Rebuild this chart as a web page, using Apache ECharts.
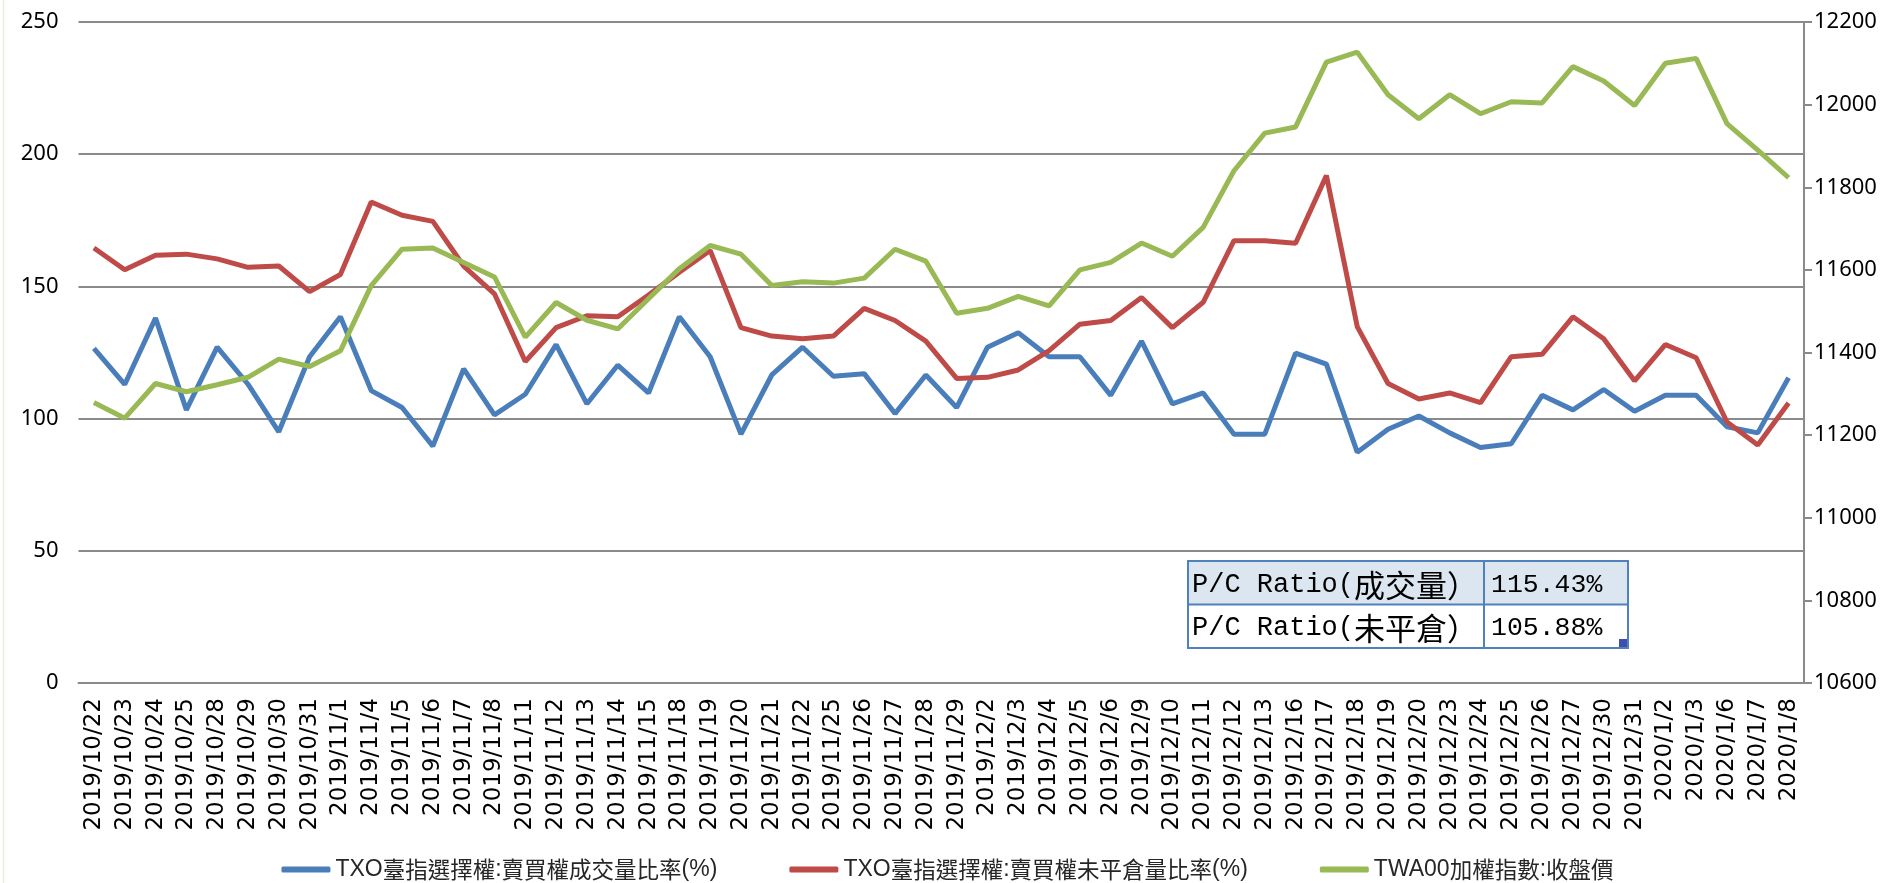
<!DOCTYPE html>
<html>
<head>
<meta charset="utf-8">
<script src="https://cdn.jsdelivr.net/npm/echarts@6/dist/echarts.min.js"></script>
<style>
  html, body { margin: 0; padding: 0; background: #ffffff; }
  #chart { width: 1895px; height: 883px; }
</style>
</head>
<body>
<div id="chart"></div>
<script>
const categories = [
  '2019/10/22','2019/10/23','2019/10/24','2019/10/25','2019/10/28','2019/10/29','2019/10/30','2019/10/31',
  '2019/11/1','2019/11/4','2019/11/5','2019/11/6','2019/11/7','2019/11/8','2019/11/11','2019/11/12',
  '2019/11/13','2019/11/14','2019/11/15','2019/11/18','2019/11/19','2019/11/20','2019/11/21','2019/11/22',
  '2019/11/25','2019/11/26','2019/11/27','2019/11/28','2019/11/29','2019/12/2','2019/12/3','2019/12/4',
  '2019/12/5','2019/12/6','2019/12/9','2019/12/10','2019/12/11','2019/12/12','2019/12/13','2019/12/16',
  '2019/12/17','2019/12/18','2019/12/19','2019/12/20','2019/12/23','2019/12/24','2019/12/25','2019/12/26',
  '2019/12/27','2019/12/30','2019/12/31','2020/1/2','2020/1/3','2020/1/6','2020/1/7','2020/1/8'
];

// TXO put/call volume ratio (%)
const putCallVolumeRatio = [
  126.6, 112.9, 138.0, 103.3, 127.0, 113.0, 95.0, 123.4,
  138.5, 110.6, 104.2, 89.6, 118.8, 101.4, 109.2, 128.0,
  105.6, 120.2, 109.7, 138.5, 123.4, 94.1, 116.5, 127.0,
  116.0, 117.0, 101.9, 116.5, 104.2, 127.0, 132.5, 123.4,
  123.4, 108.8, 129.3, 105.6, 109.7, 94.1, 94.1, 124.8,
  120.6, 87.3, 96.0, 101.0, 94.6, 89.1, 90.5, 108.8,
  103.3, 111.0, 102.8, 108.8, 108.8, 96.9, 94.6, 115.43
];

// TXO put/call open interest ratio (%)
const putCallOIRatio = [
  164.5, 156.3, 161.8, 162.2, 160.4, 157.2, 157.7, 148.0,
  154.5, 181.9, 176.9, 174.6, 157.7, 147.2, 121.6, 134.4,
  138.9, 138.5, 146.7, 155.4, 163.6, 134.4, 131.2, 130.2,
  131.2, 141.7, 137.1, 129.3, 115.2, 115.6, 118.4, 125.7,
  135.7, 137.1, 145.8, 134.4, 144.0, 167.3, 167.3, 166.3,
  191.9, 134.8, 113.3, 107.4, 109.7, 106.0, 123.4, 124.3,
  138.5, 130.2, 114.3, 128.0, 123.0, 98.7, 90.0, 105.88
];

// TWA00 weighted index close
const taiexClose = [
  11279, 11241, 11325, 11305, 11322, 11340, 11384, 11366,
  11404, 11562, 11650, 11653, 11618, 11583, 11437, 11521,
  11478, 11457, 11530, 11603, 11659, 11638, 11562, 11571,
  11568, 11580, 11650, 11621, 11495, 11507, 11536, 11513,
  11600, 11618, 11665, 11633, 11703, 11840, 11931, 11946,
  12103, 12127, 12024, 11966, 12024, 11978, 12007, 12004,
  12092, 12057, 11998, 12100, 12112, 11954, 11890, 11823
];

const seriesNames = [
  'TXO臺指選擇權:賣買權成交量比率(%)',
  'TXO臺指選擇權:賣買權未平倉量比率(%)',
  'TWA00加權指數:收盤價'
];

const tableLabelsLatin = ['P/C Ratio(', 'P/C Ratio('];
const tableLabelsCJK = ['成交量', '未平倉'];
const tableValues = ['115.43%', '105.88%'];

const colors = ['#4a7ebb', '#be4b48', '#98b954'];
const gridColor = '#8a8a8a';

const chart = echarts.init(document.getElementById('chart'), null, { renderer: 'canvas' });

// Table (P/C ratio summary) geometry
const tX = 1188, tY = 561, tW = 440, rowH = 43.5, colX = 1484;
const tableGraphics = [
  { type: 'rect', shape: { x: tX, y: tY, width: tW, height: rowH }, style: { fill: '#dce6f1' }, z: 10 },
  { type: 'rect', shape: { x: tX, y: tY + rowH, width: tW, height: rowH }, style: { fill: '#ffffff' }, z: 10 },
  { type: 'rect', shape: { x: tX, y: tY, width: tW, height: rowH * 2 }, style: { fill: 'none', stroke: '#4f81bd', lineWidth: 2 }, z: 12 },
  { type: 'line', shape: { x1: tX, y1: tY + rowH, x2: tX + tW, y2: tY + rowH }, style: { stroke: '#4f81bd', lineWidth: 2 }, z: 12 },
  { type: 'line', shape: { x1: colX, y1: tY, x2: colX, y2: tY + rowH * 2 }, style: { stroke: '#4f81bd', lineWidth: 2 }, z: 12 },
  { type: 'rect', shape: { x: tX + tW - 9, y: tY + rowH * 2 - 9, width: 8, height: 8 }, style: { fill: '#3f4fb0' }, z: 13 }
];
for (let i = 0; i < 2; i++) {
  tableGraphics.push({
    type: 'text', x: tX + 4, y: tY + rowH * i + rowH / 2 + 2, z: 14,
    style: {
      text: '{a|' + tableLabelsLatin[i] + '}{b|' + tableLabelsCJK[i] + '）}',
      verticalAlign: 'middle',
      rich: {
        a: { fontFamily: 'Liberation Mono', fontSize: 27, fill: '#000' },
        b: { fontFamily: 'Noto Sans CJK TC', fontSize: 31, fill: '#000' }
      }
    }
  });
  tableGraphics.push({
    type: 'text', x: colX + 7, y: tY + rowH * i + rowH / 2 + 2, z: 14,
    style: {
      text: tableValues[i], verticalAlign: 'middle',
      fontFamily: 'Liberation Mono', fontSize: 26.5, fill: '#000'
    }
  });
}
tableGraphics.push({
  type: 'line', shape: { x1: 3.5, y1: 0, x2: 3.5, y2: 883 }, style: { stroke: '#ebebdf', lineWidth: 1.5 }, z: 1
});

const option = {
  animation: false,
  backgroundColor: '#ffffff',
  grid: { left: 78.5, right: 91, top: 22, bottom: 200, containLabel: false },
  legend: {
    data: seriesNames,
    left: 'center',
    top: 853,
    itemGap: 72,
    itemWidth: 49,
    itemHeight: 6,
    icon: 'roundRect',
    formatter: function (name) {
      return name.replace(/([\x20-\x7e]+)/g, '{l|$1}');
    },
    textStyle: {
      fontFamily: 'Noto Sans CJK TC', fontSize: 22.5, color: '#262626',
      rich: {
        l: { fontFamily: '"Liberation Sans Narrow", "Liberation Sans"', fontSize: 23, color: '#262626' }
      }
    }
  },
  xAxis: {
    type: 'category',
    data: categories,
    boundaryGap: true,
    axisLine: { show: true, lineStyle: { color: gridColor, width: 2 } },
    axisTick: { show: false },
    axisLabel: {
      interval: 0, rotate: 90, margin: 15,
      fontFamily: 'DejaVu Sans', fontSize: 23, color: '#000'
    },
    splitLine: { show: false }
  },
  yAxis: [
    {
      type: 'value', position: 'left', min: 0, max: 250, interval: 50,
      axisLine: { show: false }, axisTick: { show: false },
      axisLabel: { margin: 20, fontFamily: 'Noto Sans', fontSize: 22, color: '#000' },
      splitLine: { show: true, lineStyle: { color: gridColor, width: 2 } }
    },
    {
      type: 'value', position: 'right', min: 10600, max: 12200, interval: 200,
      axisLine: { show: true, lineStyle: { color: gridColor, width: 2 } },
      axisTick: { show: true, length: 8, lineStyle: { color: gridColor, width: 2 } },
      axisLabel: {
        margin: 10, fontFamily: 'Noto Sans', fontSize: 22, color: '#000',
        formatter: function (v) { return String(v); }
      },
      splitLine: { show: false }
    }
  ],
  series: [
    {
      name: seriesNames[0], type: 'line', yAxisIndex: 0, data: putCallVolumeRatio,
      symbol: 'none', color: colors[0], lineStyle: { width: 5, color: colors[0] }
    },
    {
      name: seriesNames[1], type: 'line', yAxisIndex: 0, data: putCallOIRatio,
      symbol: 'none', color: colors[1], lineStyle: { width: 5, color: colors[1] }
    },
    {
      name: seriesNames[2], type: 'line', yAxisIndex: 1, data: taiexClose,
      symbol: 'none', color: colors[2], lineStyle: { width: 5, color: colors[2] }
    }
  ],
  graphic: tableGraphics
};

chart.setOption(option);
</script>
</body>
</html>
